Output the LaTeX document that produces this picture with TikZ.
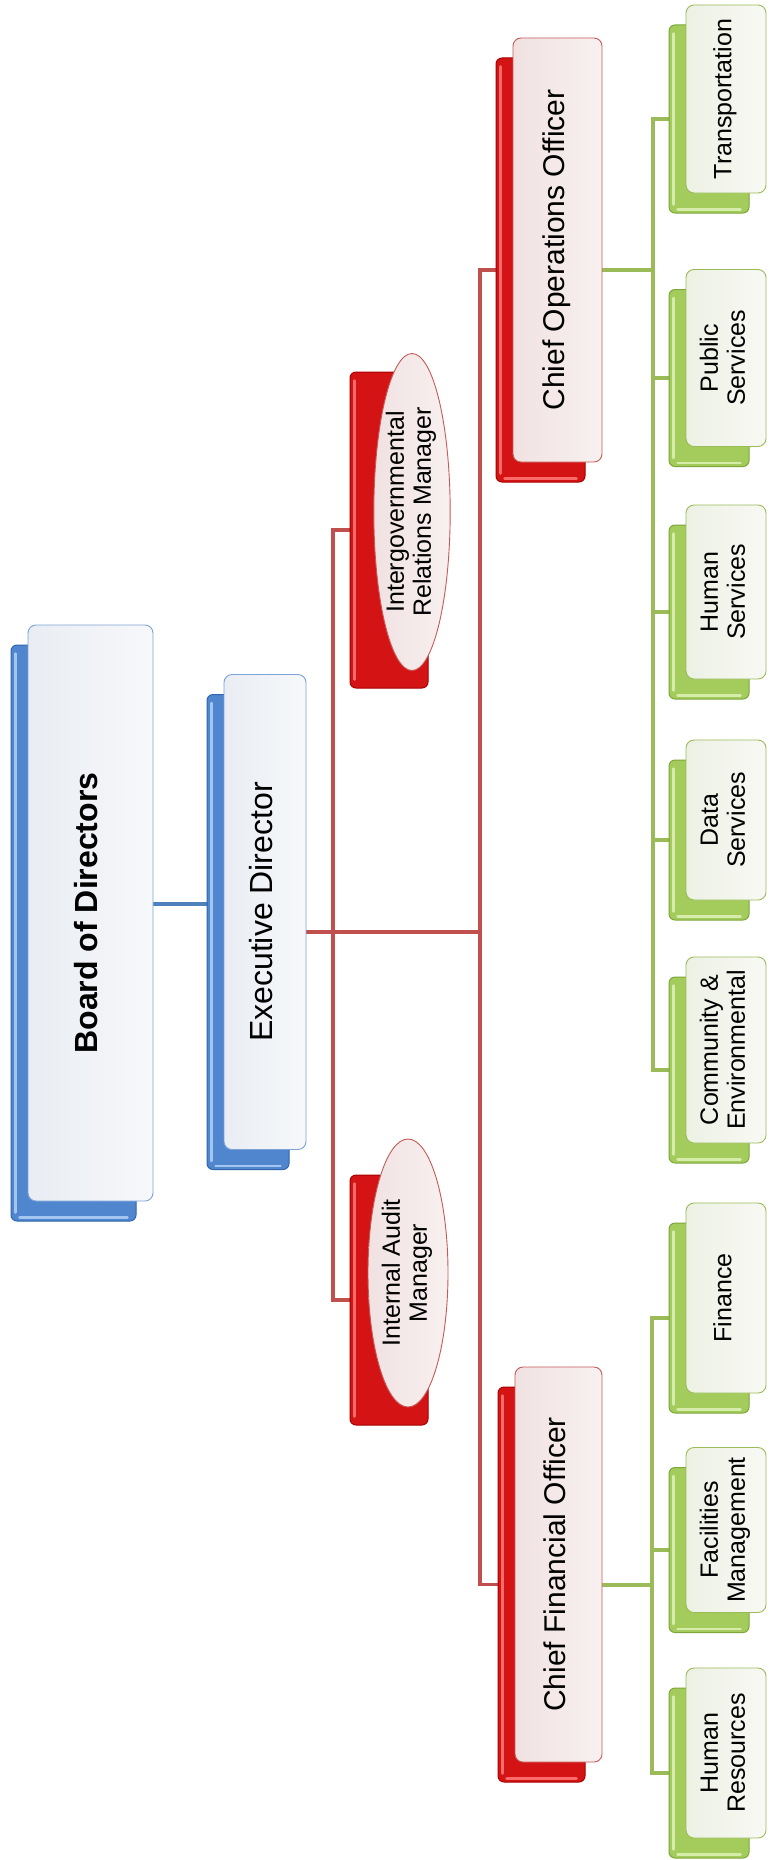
\documentclass[tikz,border=0pt]{standalone}
\usepackage{fontspec}
\setmainfont{Liberation Sans}
\usetikzlibrary{shapes.geometric,backgrounds,calc}

\definecolor{blueplate}{HTML}{4F86CE}
\definecolor{bluedark}{HTML}{2F66AE}
\definecolor{bluehl}{HTML}{A3C6F0}
\definecolor{bluefrontA}{HTML}{E9EDF3}
\definecolor{bluefrontB}{HTML}{F7F8FA}
\definecolor{blueedge}{HTML}{7BA3D6}
\definecolor{blueline}{HTML}{4F81BD}

\definecolor{redplate}{HTML}{D41414}
\definecolor{reddark}{HTML}{A60000}
\definecolor{redhl}{HTML}{FF6A6A}
\definecolor{redfrontA}{HTML}{F1E2E2}
\definecolor{redfrontB}{HTML}{F8F0F0}
\definecolor{rededge}{HTML}{C65A57}
\definecolor{redline}{HTML}{C0504D}

\definecolor{greenplate}{HTML}{A3CC5C}
\definecolor{greendark}{HTML}{7DA73A}
\definecolor{greenhl}{HTML}{D6ECAA}
\definecolor{greenfrontA}{HTML}{EDF1E4}
\definecolor{greenfrontB}{HTML}{F8F9F4}
\definecolor{greenedge}{HTML}{9BBB59}
\definecolor{greenline}{HTML}{9BBB59}

\tikzset{
  plate/.style={rounded corners=6pt, inner sep=0pt, line width=1pt,
    draw=#1dark, fill=#1plate},
  platehl/.style={draw=#1hl, line width=2.5pt, line cap=round},
  frontbox/.style={rounded corners=8pt, inner sep=0pt, line width=0.9pt,
    draw=#1edge, left color=#1frontA, right color=#1frontB, align=center},
  ellfront/.style={ellipse, inner sep=0pt, line width=0.9pt,
    draw=rededge, left color=redfrontA, right color=redfrontB, align=center},
  bigfont/.style={font=\fontsize{32}{36}\selectfont},
  midfont/.style={font=\fontsize{30}{34}\selectfont},
  smallfont/.style={font=\fontsize{25}{27}\selectfont},
  conn/.style={draw=#1line, line width=3.2pt},
}

% name, colour, centre x, centre y, width, height, font style, text
\newcommand\stackednode[8]{%
  \node[plate=#2, minimum width=#5pt, minimum height=#6pt] (#1B) at (#3-17,#4+20) {};
  \draw[platehl=#2] ([xshift=5pt,yshift=-9pt]#1B.north west) -- ([xshift=5pt,yshift=9pt]#1B.south west);
  \draw[platehl=#2] ([xshift=9pt,yshift=4pt]#1B.south west) -- ([xshift=-9pt,yshift=4pt]#1B.south east);
  \node[frontbox=#2, #7, minimum width=#5pt, minimum height=#6pt] (#1) at (#3,#4)
    {\rotatebox{90}{\begin{tabular}{@{}c@{}}#8\end{tabular}}};
}

\begin{document}
\begin{tikzpicture}[x=1pt,y=-1pt]
\useasboundingbox (0,0) rectangle (777,1860);

% top levels
\stackednode{bod}{blue}{90.5}{913}{125}{576}{bigfont}{\bfseries Board of Directors}
\stackednode{ed}{blue}{265}{912}{82}{475}{bigfont}{Executive Director}

% chiefs
\stackednode{coo}{red}{557.5}{250}{89}{424}{midfont}{Chief Operations Officer}
\stackednode{cfo}{red}{558.5}{1564.5}{87}{395}{midfont}{Chief Financial Officer}

% managers (ellipses)
\node[plate=red, minimum width=78pt, minimum height=316pt] (irmB) at (389,530) {};
\draw[platehl=red] ([xshift=5pt,yshift=-9pt]irmB.north west) -- ([xshift=5pt,yshift=9pt]irmB.south west);
\node[ellfront, smallfont, minimum width=72pt, minimum height=317pt] (irm) at (412,512)
  {\rotatebox{90}{\begin{tabular}{@{}c@{}}Intergovernmental\\Relations Manager\end{tabular}}};

\node[plate=red, minimum width=78pt, minimum height=250pt] (iamB) at (389,1300) {};
\draw[platehl=red] ([xshift=5pt,yshift=-9pt]iamB.north west) -- ([xshift=5pt,yshift=9pt]iamB.south west);
\node[ellfront, smallfont, minimum width=80pt, minimum height=268pt] (iam) at (408,1273)
  {\rotatebox{90}{\begin{tabular}{@{}c@{}}Internal Audit\\Manager\end{tabular}}};

% departments
\stackednode{trans}{green}{726}{99}{80}{188}{smallfont}{Transportation}
\stackednode{pub}{green}{726}{358}{80}{177}{smallfont}{Public\\Services}
\stackednode{hum}{green}{726}{592}{80}{174}{smallfont}{Human\\Services}
\stackednode{data}{green}{726}{820}{80}{160}{smallfont}{Data\\Services}
\stackednode{comm}{green}{726}{1050}{80}{186}{smallfont}{Community \&\\Environmental}
\stackednode{fin}{green}{726}{1298}{80}{190}{smallfont}{Finance}
\stackednode{fac}{green}{726}{1530}{80}{165}{smallfont}{Facilities\\Management}
\stackednode{hr}{green}{726}{1753}{80}{170}{smallfont}{Human\\Resources}

% junction points
\coordinate (rt) at (480,933);
\coordinate (lt) at (333,933);
\coordinate (gcoo) at (653,270);
\coordinate (gcfo) at (652,1584);

\begin{scope}[on background layer]
  \fill[white] (0,0) rectangle (777,1860);
  \draw[conn=blue] ([yshift=9pt]bod.center) -- ([yshift=9pt]bod.center -| edB);
  \draw[conn=red] (edB) -- (edB -| rt);
  \draw[conn=red] (cooB) -| (rt);
  \draw[conn=red] (cfoB) -| (rt);
  \draw[conn=red] (irmB) -| (lt);
  \draw[conn=red] (iamB) -| (lt);
  \draw[conn=green, line width=4pt] (cooB) -- (cooB -| gcoo);
  \draw[conn=green, line width=4pt] (cfoB) -- (cfoB -| gcfo);
  \foreach \n in {trans,pub,hum,data,comm}
    \draw[conn=green, line width=4pt] (\n B) -| (gcoo);
  \foreach \n in {fin,fac,hr}
    \draw[conn=green, line width=4pt] (\n B) -| (gcfo);
\end{scope}
\end{tikzpicture}
\end{document}
